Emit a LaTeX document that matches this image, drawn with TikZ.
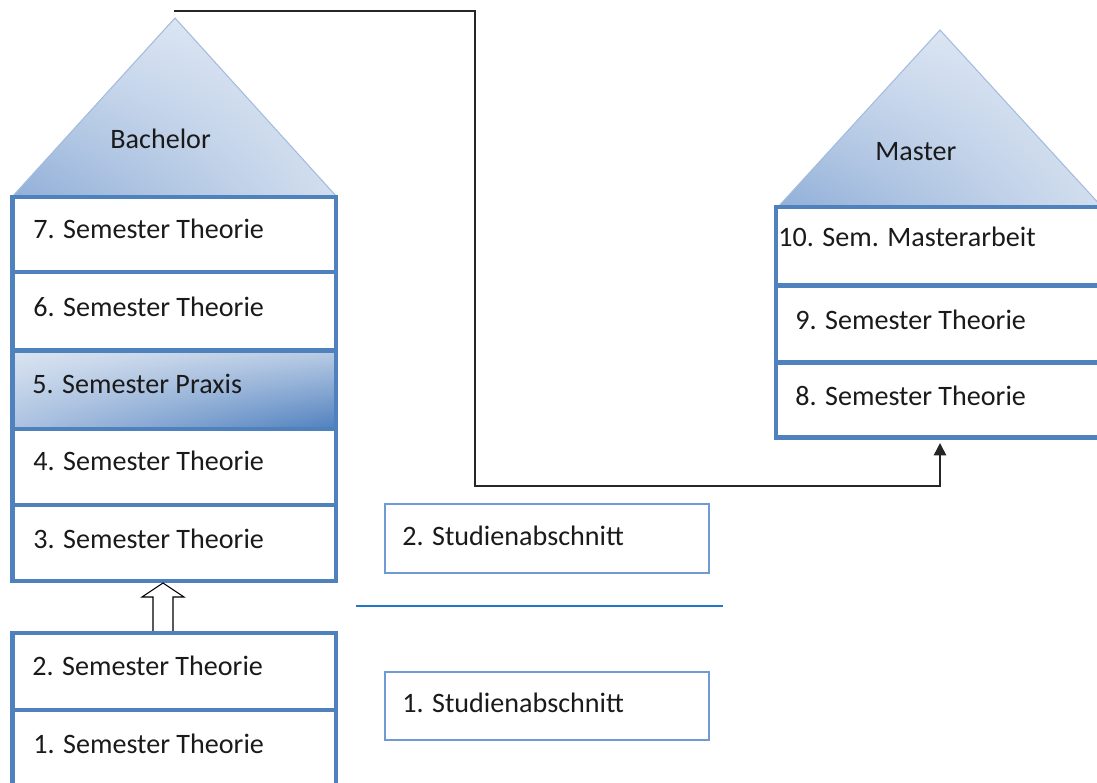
\documentclass[tikz,border=0pt]{standalone}
\usepackage{fontspec}
\setmainfont{Carlito}
\usetikzlibrary{arrows.meta,calc,shadings}
\definecolor{rowblue}{HTML}{4F81BD}
\definecolor{studblue}{HTML}{6F9AD3}
\definecolor{sepblue}{HTML}{1F77C9}
\definecolor{triline}{HTML}{A3BCDD}
\definecolor{txt}{HTML}{1A1A1A}
\definecolor{pul}{RGB}{219,229,241}
\definecolor{pur}{RGB}{186,204,229}
\definecolor{pll}{RGB}{172,194,225}
\definecolor{plr}{RGB}{79,128,190}
\definecolor{tul}{RGB}{212,224,240}
\definecolor{tur}{RGB}{226,234,245}
\definecolor{tll}{RGB}{145,175,216}
\definecolor{tlr}{RGB}{210,222,238}
\begin{document}
\begin{tikzpicture}[x=0.02cm,y=-0.02cm,
  font=\fontsize{16}{19}\selectfont,
  row/.style={draw=rowblue, line width=2.5pt, fill=white, minimum width=6.47cm, inner sep=0pt, outer sep=0pt},
  mrow/.style={row, minimum width=6.68cm},
  praxis/.style={row, path picture={\shade[upper left=pul, upper right=pur, lower left=pll, lower right=plr] (path picture bounding box.north west) rectangle (path picture bounding box.south east);}},
  stud/.style={draw=studblue, line width=0.8pt, fill=white, minimum width=6.48cm, inner sep=0pt},
  lbl/.style={anchor=base west, inner sep=0pt, text=txt},
  tri/.style={draw=triline, line width=0.6pt},
  trishade/.style={upper left=tul, upper right=tur, lower left=tll, lower right=tlr},
  conn/.style={draw=black!85, line width=0.9pt, -{Triangle[length=7pt,width=7pt]}},
  hollow/.style={draw=black, line width=0.6pt, fill=white}]
\useasboundingbox (0,0) rectangle (1097,782);
\clip (0,0) rectangle (1097,782);

% Bachelor roof
\shade[trishade] (12,197) -- (175,18) -- (337,197) -- cycle;
\draw[tri] (12,197) -- (175,18) -- (337,197);
\node[lbl] (bach) at (110,148) {Bachelor};

% Master roof
\shade[trishade] (778,207) -- (940,30) -- (1102,207) -- cycle;
\draw[tri] (778,207) -- (940,30) -- (1102,207);
\node[lbl] (mast) at (875,160) {Master};

% Bachelor upper stack
\node[row, minimum height=1.5cm] (r7) at (174.25,234.5) {};
\node[row, minimum height=1.57cm] (r6) at (174.25,311.25) {};
\node[praxis, minimum height=1.57cm] (r5) at (174.25,389.75) {};
\node[row, minimum height=1.52cm] (r4) at (174.25,467) {};
\node[row, minimum height=1.52cm] (r3) at (174.25,543) {};

% hollow arrow
\draw[hollow] (153,640) -- (153,597) -- (142,597) -- (163,583) -- (184,597) -- (173,597) -- (173,640) -- cycle;

% Bachelor lower stack
\node[row, minimum height=1.54cm] (r2) at (174.25,671.5) {};
\node[row, minimum height=1.6cm] (r1) at (174.25,750) {};

\node[lbl] (t7) at (33,238) {7. Semester Theorie};
\node[lbl] (t6) at (33,316) {6. Semester Theorie};
\node[lbl] (t5) at (32,393) {5. Semester Praxis};
\node[lbl] (t4) at (33,470) {4. Semester Theorie};
\node[lbl] (t3) at (33,548) {3. Semester Theorie};
\node[lbl] (t2) at (32,675) {2. Semester Theorie};
\node[lbl] (t1) at (33,753) {1. Semester Theorie};

% Master stack
\node[mrow, minimum height=1.57cm] (m10) at (943,246.25) {};
\node[mrow, minimum height=1.54cm] (m9) at (943,324) {};
\node[mrow, minimum height=1.5cm] (m8) at (943,400) {};
\node[lbl] (t10) at (778,246) {10. Sem. Masterarbeit};
\node[lbl] (t9) at (795,329) {9. Semester Theorie};
\node[lbl] (t8) at (795,405) {8. Semester Theorie};

% Studienabschnitte
\node[stud, minimum height=1.38cm] (s2) at (547,538.5) {};
\node[stud, minimum height=1.36cm] (s1) at (547,706) {};
\node[lbl] (ts2) at (402,545) {2. Studienabschnitt};
\node[lbl] (ts1) at (402,712) {1. Studienabschnitt};

\coordinate (sepL) at (356,606);
\coordinate (sepR) at (723,606);
\draw[draw=sepblue, line width=0.8pt] (sepL) -- (sepR);

% connector
\coordinate (cstart) at (174,11);
\coordinate (j1) at (475,11);
\coordinate (j2) at (475,486);
\coordinate (cend) at (940,443);
\draw[conn] (cstart) -- (j1) -- (j2) -| (cend);
\end{tikzpicture}
\end{document}
